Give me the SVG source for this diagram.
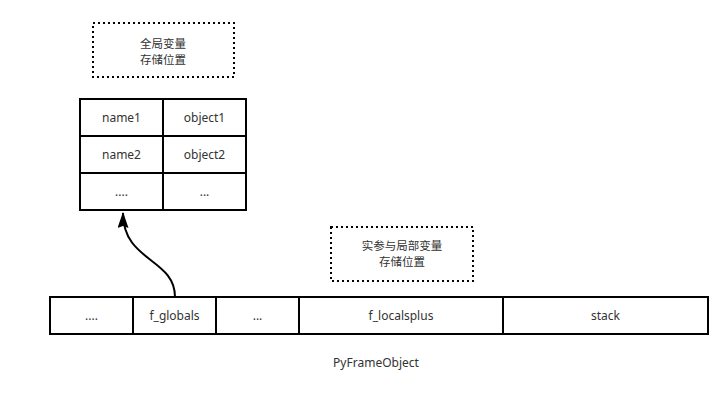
<svg xmlns="http://www.w3.org/2000/svg" width="728" height="402" viewBox="0 0 728 402">
<style>
.cell{fill:#fff;stroke:#000;stroke-width:2}
.note{fill:none;stroke:#000;stroke-width:2;stroke-dasharray:2 3}
text{font-family:"Noto Sans","Noto Sans CJK SC",sans-serif;font-size:12px;fill:#333;text-anchor:middle}
.cjk{font-size:11.5px}
.conn{fill:none;stroke:#000;stroke-width:2}
</style>
<defs>
<marker id="ah" viewBox="0 0 16 11" refX="15" refY="5.5" markerWidth="16" markerHeight="11" markerUnits="userSpaceOnUse" orient="auto">
<path d="M0,0 L16,5.5 L0,11 L2,5.5 Z" fill="#000"/>
</marker>
</defs>
<rect width="728" height="402" fill="#fff"/>
<g id="note-globals">
<rect class="note" x="93" y="23" width="141" height="54"/>
<text class="cjk" x="163" y="48">全局变量</text>
<text class="cjk" x="163" y="64">存储位置</text>
</g>
<g id="globals-table">
<rect class="cell" x="80" y="99" width="83" height="37"/>
<rect class="cell" x="163" y="99" width="83" height="37"/>
<rect class="cell" x="80" y="136" width="83" height="37"/>
<rect class="cell" x="163" y="136" width="83" height="37"/>
<rect class="cell" x="80" y="173" width="83" height="37"/>
<rect class="cell" x="163" y="173" width="83" height="37"/>
<text x="121.5" y="122">name1</text>
<text x="204.5" y="122">object1</text>
<text x="121.5" y="159">name2</text>
<text x="204.5" y="159">object2</text>
<text x="121.5" y="196">....</text>
<text x="204.5" y="196">...</text>
</g>
<g id="note-locals">
<rect class="note" x="331" y="227" width="142" height="54"/>
<text class="cjk" x="402" y="250">实参与局部变量</text>
<text class="cjk" x="402" y="266">存储位置</text>
</g>
<g id="frame">
<rect class="cell" x="50" y="297" width="83" height="37"/>
<rect class="cell" x="133" y="297" width="83" height="37"/>
<rect class="cell" x="216" y="297" width="83" height="37"/>
<rect class="cell" x="299" y="297" width="204" height="37"/>
<rect class="cell" x="503" y="297" width="205" height="37"/>
<text x="91.5" y="320">....</text>
<text x="174.5" y="320">f_globals</text>
<text x="257.5" y="320">...</text>
<text x="401" y="320">f_localsplus</text>
<text x="605.5" y="320">stack</text>
</g>
<g id="frame-label">
<text x="376" y="367">PyFrameObject</text>
</g>
<g id="connectors">
<path class="conn" d="M175,297 C175,258 123,262 123,213" marker-end="url(#ah)"/>
</g>
</svg>
